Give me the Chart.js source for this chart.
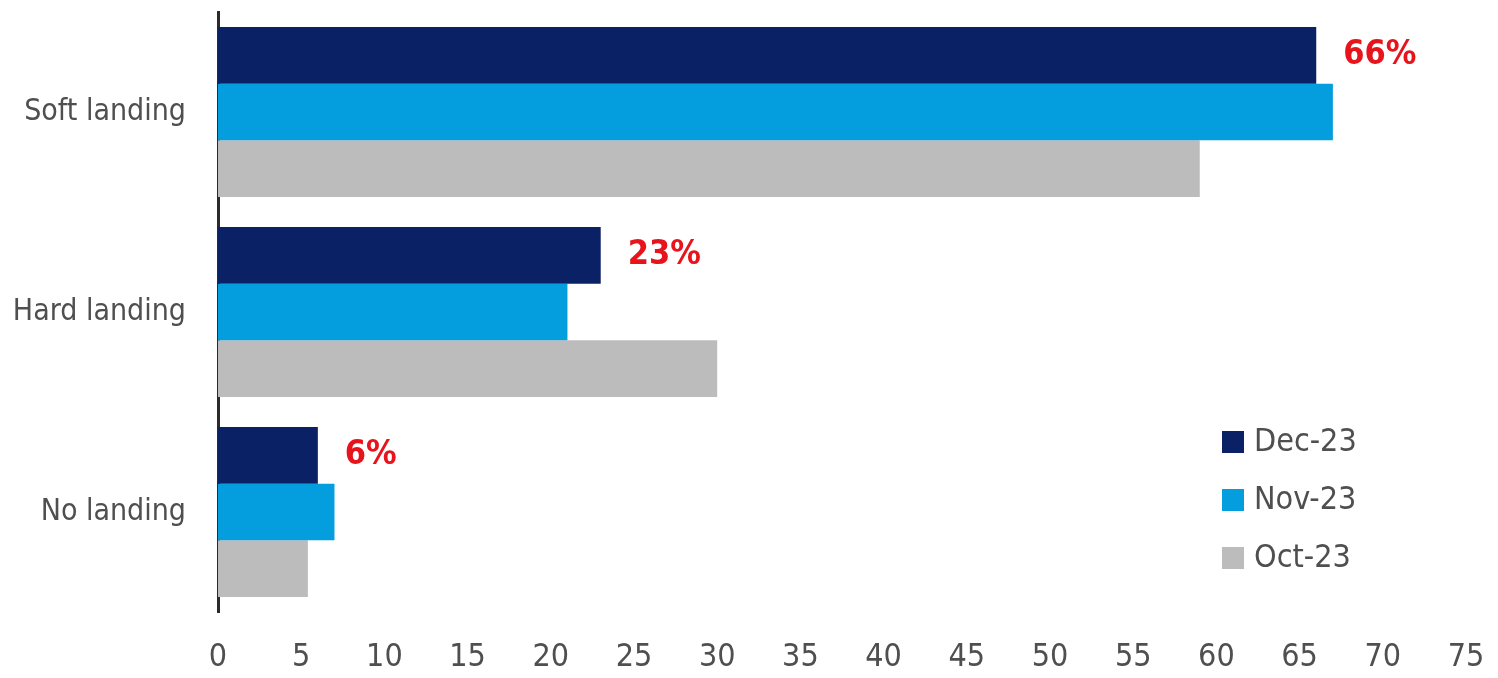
<!DOCTYPE html>
<html>
<head>
<meta charset="utf-8">
<script src="https://cdn.jsdelivr.net/npm/chart.js@4/dist/chart.umd.min.js"></script>
<style>
  html, body { margin: 0; padding: 0; background: #ffffff; }
  #wrap { width: 1498px; height: 678px; position: relative; }
</style>
</head>
<body>
<div id="wrap"><canvas id="c" width="1498" height="678"></canvas></div>
<script>
// Survey: expected economic landing scenario (% of respondents)
const categories = ['Soft landing', 'Hard landing', 'No landing'];
const seriesNames = ['Dec-23', 'Nov-23', 'Oct-23'];
const dec23 = [66, 23, 6];
const nov23 = [67, 21, 7];
const oct23 = [59, 30, 5.4];
const xTicks = [0, 5, 10, 15, 20, 25, 30, 35, 40, 45, 50, 55, 60, 65, 70, 75];

const FONT = "'Liberation Sans Narrow', 'Arial Narrow', 'DejaVu Sans Condensed', sans-serif";
const TEXT = '#4f4f4f';
const colors = ['#0a2166', '#049ddd', '#bcbcbc'];

// value labels on the latest series
const valueLabels = {
  id: 'valueLabels',
  afterDatasetsDraw(chart) {
    const ctx = chart.ctx;
    const meta = chart.getDatasetMeta(0);
    const vals = chart.data.datasets[0].data;
    ctx.save();
    ctx.font = 'bold 34px ' + FONT;
    ctx.fillStyle = '#e8141c';
    ctx.textAlign = 'left';
    ctx.textBaseline = 'middle';
    meta.data.forEach((bar, i) => {
      ctx.fillText(Math.round(vals[i]) + '%', bar.x + 27, bar.y);
    });
    ctx.restore();
  }
};

// legend block in the lower right of the plot
const sideLegend = {
  id: 'sideLegend',
  afterDraw(chart) {
    const ctx = chart.ctx;
    const x0 = 1222, y0 = 442, gap = 58, box = 22;
    ctx.save();
    ctx.font = '32px ' + FONT;
    ctx.textAlign = 'left';
    ctx.textBaseline = 'middle';
    chart.data.datasets.forEach((ds, i) => {
      const y = y0 + i * gap;
      ctx.fillStyle = ds.backgroundColor;
      ctx.fillRect(x0, y - box / 2, box, box);
      ctx.fillStyle = TEXT;
      ctx.fillText(ds.label, x0 + 32, y + 1);
    });
    ctx.restore();
  }
};

new Chart(document.getElementById('c'), {
  type: 'bar',
  data: {
    labels: categories,
    datasets: [
      { label: seriesNames[0], data: dec23, backgroundColor: colors[0] },
      { label: seriesNames[1], data: nov23, backgroundColor: colors[1] },
      { label: seriesNames[2], data: oct23, backgroundColor: colors[2] }
    ]
  },
  options: {
    indexAxis: 'y',
    responsive: false,
    animation: false,
    devicePixelRatio: 1,
    layout: { padding: { top: 12, right: 32, left: 0, bottom: 0 } },
    datasets: {
      bar: { categoryPercentage: 0.85, barPercentage: 1.0, borderWidth: 0 }
    },
    plugins: {
      legend: { display: false },
      tooltip: { enabled: false }
    },
    scales: {
      x: {
        min: 0,
        max: 75,
        afterBuildTicks(scale) { scale.ticks = xTicks.map(v => ({ value: v })); },
        afterFit(scale) {
          scale.height = 66;
          scale.paddingLeft = 0;
          scale.paddingRight = 0;
        },
        grid: { display: false },
        border: { display: false },
        ticks: { color: TEXT, font: { family: FONT, size: 32 }, padding: 18 }
      },
      y: {
        afterFit(scale) {
          scale.width = 218;
          scale.paddingTop = 0;
          scale.paddingBottom = 0;
        },
        grid: { display: false },
        border: { display: true, color: '#2b2b2b', width: 3 },
        ticks: { color: TEXT, font: { family: FONT, size: 30 }, padding: 24 }
      }
    }
  },
  plugins: [valueLabels, sideLegend]
});
</script>
</body>
</html>
